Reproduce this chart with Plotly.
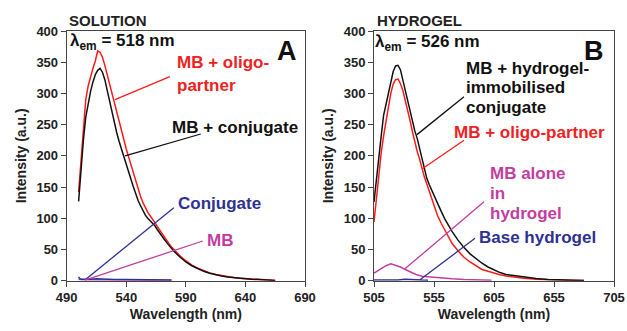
import plotly.graph_objects as go

# ---------------- Panel A (SOLUTION) ----------------
wl_a = [500, 502, 504, 506, 508, 510, 512, 514, 516, 518, 520, 522, 524, 526, 528, 530,
        532, 534, 536, 538, 540, 542, 544, 546, 548, 550, 552, 554, 556, 558, 560, 562,
        564, 566, 568, 570, 572, 574, 576, 578, 580, 585, 590, 595, 600, 605, 610, 615,
        620, 625, 630, 635, 640, 645, 650, 655, 660, 665]
mb_conj_a = [127, 178, 225, 262, 285, 303, 318, 330, 337, 340, 334, 322, 305, 287, 270, 253,
             237, 223, 210, 199, 188, 175, 162, 150, 138, 128, 120, 112, 105, 100, 96, 92,
             88, 82, 76, 71, 66, 61, 56, 51, 47, 38, 30, 24, 19, 15, 12, 9.5,
             7.5, 6, 4.8, 3.8, 3, 2.3, 1.8, 1.3, 0.9, 0.5]
mb_oligo_a = [142, 195, 250, 290, 312, 328, 340, 352, 368, 366, 358, 345, 330, 315, 300, 287,
              270, 254, 238, 224, 211, 198, 185, 172, 158, 146, 135, 125, 117, 110, 104, 99,
              93, 87, 81, 75, 69, 64, 59, 54, 50, 40, 32, 25, 20, 16, 12.5, 10,
              8, 6.3, 5, 4, 3.2, 2.5, 2, 1.5, 1, 0.5]
wl_a_small = [500, 501, 503, 506, 510, 515, 520, 525, 530, 540, 550, 560, 570, 578]
conjugate_a = [6, 3, 2.5, 2, 2.5, 3, 2.5, 2, 2, 1.8, 1.5, 1.5, 1.2, 1]
mb_a = [3, 2, 1.5, 1.5, 1.8, 2, 1.8, 1.5, 1.3, 1.2, 1, 0.8, 0.6, 0.5]

# ---------------- Panel B (HYDROGEL) ----------------
wl_b = [505, 507, 509, 511, 513, 515, 517, 519, 521, 523, 525, 527, 529, 531, 533, 535,
        537, 539, 541, 543, 545, 547, 549, 551, 553, 555, 558, 561, 564, 567, 570, 575,
        580, 585, 590, 595, 600, 605, 610, 615, 620, 625, 630, 640, 650, 660, 670, 680]
mb_hydro_conj_b = [126, 165, 198, 232, 265, 284, 299, 317, 335, 344, 345, 338, 322, 306, 288, 269,
                   253, 240, 228, 212, 192, 176, 164, 154, 145, 136, 124, 111, 99, 88, 79, 65,
                   53, 43, 35, 28, 22, 17, 13, 10, 8.5, 7, 5.5, 3.5, 2, 1.2, 0.6, 0.3]
mb_oligo_b = [94, 135, 175, 205, 232, 255, 280, 300, 315, 322, 323, 316, 305, 290, 274, 257,
              239, 222, 207, 195, 179, 166, 155, 143, 131, 120, 104, 92, 81, 69, 60, 48,
              37.5, 30, 24, 18, 15, 12, 9.5, 7.5, 6, 4.8, 3.8, 2.5, 1.5, 0.8, 0.4, 0.2]
wl_b_mb = [505, 510, 515, 519, 523, 527, 531, 535, 540, 545, 550, 560, 570, 580, 590, 600, 603]
mb_alone_b = [12, 18, 24, 27, 25, 22, 18, 14, 10, 7, 6, 4.5, 3, 2, 1.5, 1, 0.8]
wl_b_base = [505, 515, 525, 531, 534, 537, 540, 545, 550]
base_hydro_b = [1, 1, 1, 2.5, 2.5, 2.5, 1.5, 1, 0.8]

xticks_a = [490, 540, 590, 640, 690]
xticks_b = [505, 555, 605, 655, 705]
yticks = [0, 50, 100, 150, 200, 250, 300, 350, 400]

RED = "#ff1a1a"
BLACK = "#111111"
BLUE = "#2e3192"
MAG = "#c23d9f"
FONT = "Liberation Sans"

fig = go.Figure()
fig.add_trace(go.Scatter(x=wl_a_small, y=mb_a, mode="lines", line=dict(color=MAG, width=1.5), xaxis="x", yaxis="y"))
fig.add_trace(go.Scatter(x=wl_a_small, y=conjugate_a, mode="lines", line=dict(color=BLUE, width=1.5), xaxis="x", yaxis="y"))
fig.add_trace(go.Scatter(x=wl_a, y=mb_oligo_a, mode="lines", line=dict(color=RED, width=1.5), xaxis="x", yaxis="y"))
fig.add_trace(go.Scatter(x=wl_a, y=mb_conj_a, mode="lines", line=dict(color=BLACK, width=1.5), xaxis="x", yaxis="y"))

fig.add_trace(go.Scatter(x=wl_b_base, y=base_hydro_b, mode="lines", line=dict(color=BLUE, width=1.5), xaxis="x2", yaxis="y2"))
fig.add_trace(go.Scatter(x=wl_b_mb, y=mb_alone_b, mode="lines", line=dict(color=MAG, width=1.5), xaxis="x2", yaxis="y2"))
fig.add_trace(go.Scatter(x=wl_b, y=mb_oligo_b, mode="lines", line=dict(color=RED, width=1.5), xaxis="x2", yaxis="y2"))
fig.add_trace(go.Scatter(x=wl_b, y=mb_hydro_conj_b, mode="lines", line=dict(color=BLACK, width=1.5), xaxis="x2", yaxis="y2"))

W, H = 627, 331
def px(xp):
    return xp / W
def py(yp):
    return 1 - yp / H

axis_common = dict(showline=True, linecolor="#444", linewidth=1, mirror=True, ticks="outside",
                   ticklen=5, tickcolor="#444", showgrid=False, zeroline=False, automargin=False,
                   tickfont=dict(family=FONT, size=13, color="#222", weight="bold"))
title_font = dict(family=FONT, size=14, color="#222", weight="bold")

fig.update_layout(
    width=W, height=H, margin=dict(l=0, r=0, t=0, b=0, autoexpand=False),
    paper_bgcolor="white", plot_bgcolor="white", showlegend=False,
    xaxis=dict(domain=[px(66.7), px(305)], range=[490, 690], tickvals=xticks_a, anchor="y",
               title=dict(text="Wavelength (nm)", font=title_font, standoff=4), **axis_common),
    yaxis=dict(domain=[py(280.7), py(31)], range=[0, 400], tickvals=yticks, anchor="x",
               title=dict(text="Intensity (a.u.)", font=title_font, standoff=6), **axis_common),
    xaxis2=dict(domain=[px(374), px(614)], range=[505, 705], tickvals=xticks_b, anchor="y2",
                title=dict(text="Wavelength (nm)", font=title_font, standoff=4), **axis_common),
    yaxis2=dict(domain=[py(280.7), py(31)], range=[0, 400], tickvals=yticks, anchor="x2",
                title=dict(text="Intensity (a.u.)", font=title_font, standoff=6), **axis_common),
)

def lab(text, x, y, color, xref="x", yref="y", size=17, xanchor="left"):
    fig.add_annotation(text=text, x=x, y=y, xref=xref, yref=yref, showarrow=False,
                       xanchor=xanchor, yanchor="middle",
                       font=dict(family=FONT, size=size, color=color, weight="bold"))

def seg(x0, y0, x1, y1, color, xref="x", yref="y"):
    fig.add_shape(type="line", x0=x0, y0=y0, x1=x1, y1=y1, xref=xref, yref=yref,
                  line=dict(color=color, width=1.3))

# Panel A labels
lab("MB + oligo-", 580.7, 350, "#ee2222")
lab("partner", 580.7, 312, "#ee2222")
seg(576.6, 326.8, 530.5, 290, RED)
lab("MB + conjugate", 576.6, 246, BLACK)
seg(602.5, 235, 539, 200, BLACK)
lab("Conjugate", 581.6, 123, BLUE)
seg(579.9, 117, 505.3, 1.1, BLUE)
lab("MB", 605.8, 65, MAG)
seg(604.2, 63.6, 505.3, 1.0, MAG)

# Panel B labels
lab("MB + hydrogel-", 580, 340, BLACK, "x2", "y2")
lab("immobilised", 580, 310, BLACK, "x2", "y2")
lab("conjugate", 580, 278, BLACK, "x2", "y2")
seg(580, 294.7, 540.8, 234, BLACK, "x2", "y2")
lab("MB + oligo-partner", 570, 238, "#ee2222", "x2", "y2")
seg(580, 225, 545, 179, RED, "x2", "y2")
lab("MB alone", 600, 172, MAG, "x2", "y2")
lab("in", 600, 140, MAG, "x2", "y2")
lab("hydrogel", 600, 107, MAG, "x2", "y2")
seg(596.7, 126.5, 530.8, 19, MAG, "x2", "y2")
lab("Base hydrogel", 590.8, 70, BLUE, "x2", "y2")
seg(589.2, 67.9, 543.3, 1.5, BLUE, "x2", "y2")

# Titles and panel letters
lab("SOLUTION", px(67), py(20), "#222", "paper", "paper", size=15)
lab("HYDROGEL", px(375), py(20), "#222", "paper", "paper", size=15)
lab("λ<sub>em</sub> = 518 nm", px(68), py(42), "#111", "paper", "paper", size=17)
lab("λ<sub>em</sub> = 526 nm", px(373), py(43), "#111", "paper", "paper", size=17)
lab("A", px(287), py(51), "#111", "paper", "paper", size=27, xanchor="center")
lab("B", px(594), py(51), "#111", "paper", "paper", size=27, xanchor="center")

fig.write_html("out.html", config={"displayModeBar": False},
               post_script="document.body.style.margin='0px';document.body.style.overflow='hidden';")
